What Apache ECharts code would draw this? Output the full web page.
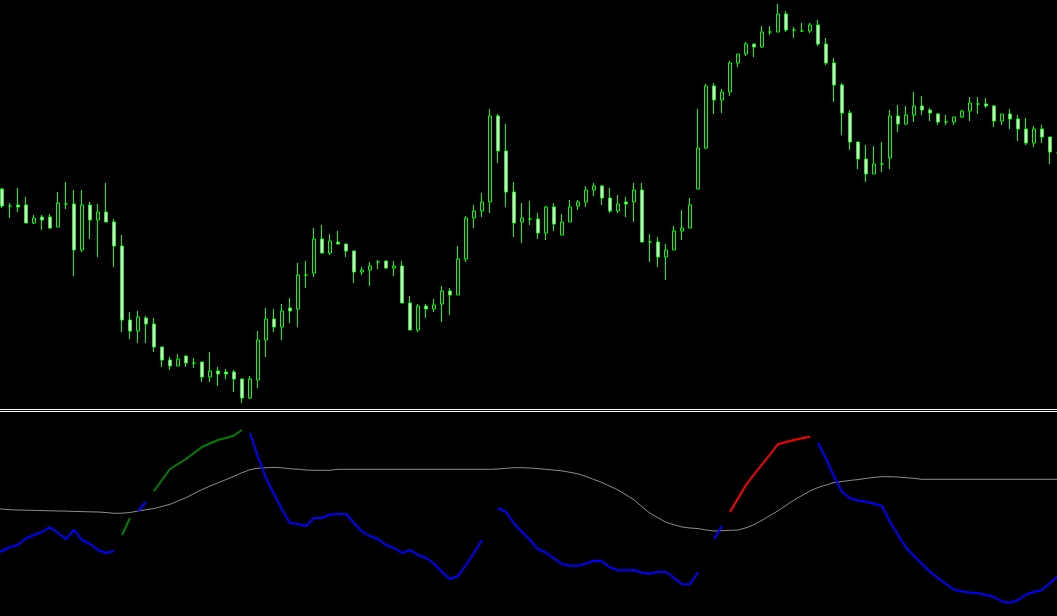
<!DOCTYPE html>
<html>
<head>
<meta charset="utf-8">
<script src="https://cdn.jsdelivr.net/npm/echarts@6/dist/echarts.min.js"></script>
<style>
  html, body { margin: 0; padding: 0; background: #000; }
  .wrap { position: relative; width: 1057px; height: 616px; }
  #chart { width: 1057px; height: 616px; }
  /* window separator: two thin white rules between the panes */
  .sep { position: absolute; left: 0; width: 1057px; height: 1px; background: #fff; }
</style>
</head>
<body>
<div class="wrap">
  <div id="chart"></div>
  <div class="sep" style="top:409px"></div>
  <div class="sep" style="top:411px"></div>
</div>
<script>
// price bars (arbitrary price units)
// first bar lies just off the left edge (no candle visible), last one is cut by the right edge
const opens = [null, 221,204,205,205,187,193,193,183,206,206, 160,205,190,198,188,164,90,79,92,86,
  63,50,44,54,47,48,33,39,38,38, 31,12,30,70,91,83,102,101,135,137,
  171,157,168,166,159,138,140,148,149,142, 144,107,80,104,101,106,119,115,151,192,
  199,208,294,259,218,188,191,191,177,203, 175,188,204,208,220,224,212,199,208,208,
  220,168,168,153,160,179,182,221,262,324, 310,318,347,356,366,363,378,378,396,380,
  379,379,385,366,347,325,297,268,251,236, 246,252,294,286,295,304,300,296,288,288,
  293,299,306,306,304,289,296,291,281,267, 281,273,257];
const closes = [null, 204,204,203,187,192,190,182,207,206,160, 205,190,198,188,164,90,79,93,86,63,
  50,44,51,47,47,33,39,36,36,31, 12,31,70,91,83,99,99,135,135,171,
  157,169,166,159,138,140,144,148,142,144, 107,80,104,101,105,119,115,151,192,199,
  208,294,259,218,187,192,191,177,203,186, 188,203,208,220,224,212,199,206,206,220,
  168,168,153,160,179,182,205,262,324,310, 318,347,356,366,363,378,378,396,380,380,
  379,385,366,347,325,297,268,251,236,246, 246,294,286,295,304,300,297,288,288,293,
  299,307,306,304,289,296,291,281,267,281, 273,258,257];
const lows = [null, 202,192,198,187,186,180,181,183,201,134, 158,171,153,188,143,78,71,67,67,58,
  43,40,44,43,42,28,28,24,31,18, 7,11,22,53,78,70,87,83,122,133,
  157,155,166,153,127,135,124,141,141,134, 107,80,78,92,98,88,95,115,148,182,
  193,197,247,203,173,167,185,171,170,179, 175,188,200,203,214,205,197,197,193,188,
  168,148,143,130,160,170,182,221,261,296, 297,314,343,354,353,362,375,378,378,372,
  378,377,364,345,308,275,260,241,228,236, 238,241,278,285,288,295,289,285,285,285,
  292,289,296,302,283,285,281,269,265,263, 267,246,254];
const highs = [null, 222,207,222,213,195,195,196,218,228,220, 220,208,206,227,191,175,98,99,94,92,
  63,53,56,54,52,48,58,43,41,40, 31,34,79,102,101,106,112,147,149,182,
  185,176,179,166,159,143,148,150,149,149, 149,114,106,106,111,124,122,164,194,205,
  217,301,296,286,228,207,209,197,204,207, 196,210,210,224,227,225,222,215,213,227,
  227,176,173,166,184,200,212,301,326,327, 321,349,356,368,366,384,384,406,399,383,
  387,387,390,372,352,327,300,268,265,264, 268,300,305,304,318,314,302,297,295,293,
  300,313,313,312,305,296,301,295,292,284, 285,273,260];

// lower window: oscillator, its colour runs, and the grey signal line
const osc = [45, 49,53,55,61.5,65,68,73,67,61,70, 60,56,50,47,49,65,82,89,98,109,
  120,131,136,141,147,153,156.5,160,162,164.5, 170,167,143,122,106,90.5,77,76,74,82,
  82,85.5,86,86,77,68.5,64,61,55,52, 47,50,45,42,36.5,28,21,24,35,47,
  60,76,92,88,76.5,68,60,50.7,47.5,41.5, 36,34.3,34.3,36.5,39.3,38.8,32.5,29.8,29.7,30,
  27.3,26.2,28,28,22.3,15.7,15.7,27.7,44,61, 74,88,101.5,115,125.5,135.5,145.5,155.8,158,160,
  161.7,163.2,157,141.5,123.5,108,102,99.5,98.3,96.2, 94,78.3,65,52.5,44,36,28.3,22,16,10.5,
  8.5,7.5,6.8,5,3,-1.5,-2.7,0,5.5,8, 10,17,24];
const oscRuns = [['b',16],['g',2],['b',2],['g',12],['b',30],['g',1],['b',26],['r',1],['b',2],['r',11],['b',31]];
const signal = [91.2, 91,90.3,90,89.8,89.6,89.4,89.2,89,88.9,88.6, 88.4,88.2,88,87.5,86.7,86.8,87.5,89,90.3,91.5,
  93.6,95.7,99,102.4,106.4,110.4,114,117.2,120.4,123.8, 127.3,130.3,131.8,132.2,132.6,132.2,131.2,130.8,130,129.7,
  129.7,129.7,130.7,130.7,130.7,130.7,130.7,130.7,130.7,130.7, 130.7,130.7,130.7,130.7,130.7,130.7,130.7,130.7,130.7,130.7,
  130.7,130.7,131,131.7,132.3,132.3,132,131.4,130.7,129.9, 129.1,127.7,126.1,123.5,120.5,117.4,113.7,110,105.2,100.1,
  93.4,86.7,82.2,77.7,75.3,73,72,71.4,70,69, 69.3,69.7,70,72.2,75.3,79.7,84.5,89.2,94.6,100,
  104.5,109,112.5,115,117.4,118.5,119.6,120.4,121.6,122.6, 123.3,123.3,123,122.3,121.7,120.7,120.7,120.7,120.7,120.7,
  120.7,120.7,120.7,120.7,120.7,120.7,120.7,120.7,120.7,120.7, 120.7,120.7,120.7];

const bars = opens.map((o, i) => String(i));
const candles = opens.map((o, i) => (o == null ? '-' : [o, closes[i], lows[i], highs[i]]));

const oscColour = [];
oscRuns.forEach(([c, n]) => { for (let k = 0; k < n; k++) oscColour.push(c); });
function oscPart(c) {
  return osc.map((v, i) => (oscColour[i] === c ? v : null));
}

const chart = echarts.init(document.getElementById('chart'));

function oscLine(c, colour) {
  return {
    type: 'line', xAxisIndex: 1, yAxisIndex: 1,
    data: oscPart(c), symbol: 'none', connectNulls: false,
    lineStyle: { color: colour, width: 2 }
  };
}

// the two windows are wider than the page so the edge bars get cut, as in the terminal
chart.setOption({
  backgroundColor: '#000000',
  animation: false,
  grid: [
    { left: -10, width: 1072, top: 0, height: 407, outerBoundsMode: 'none', containLabel: false },
    { left: -10, width: 1072, top: 412, height: 204, outerBoundsMode: 'none', containLabel: false }
  ],
  xAxis: [
    { type: 'category', gridIndex: 0, data: bars, show: false },
    { type: 'category', gridIndex: 1, data: bars, show: false }
  ],
  yAxis: [
    { type: 'value', gridIndex: 0, min: 3, max: 410, show: false },
    { type: 'value', gridIndex: 1, min: -16, max: 188, show: false }
  ],
  series: [
    {
      type: 'candlestick',
      data: candles,
      barWidth: 4,
      itemStyle: {
        color: '#000000',
        color0: '#ffffff',
        borderColor: '#00ff00',
        borderColor0: '#00ff00',
        borderColorDoji: '#00ff00',
        borderWidth: 1
      }
    },
    {
      type: 'line', xAxisIndex: 1, yAxisIndex: 1,
      data: signal, symbol: 'none',
      lineStyle: { color: '#8c8c8c', width: 1 }
    },
    oscLine('b', '#0000ff'),
    oscLine('g', '#008000'),
    oscLine('r', '#ff0000')
  ]
});
</script>
</body>
</html>
